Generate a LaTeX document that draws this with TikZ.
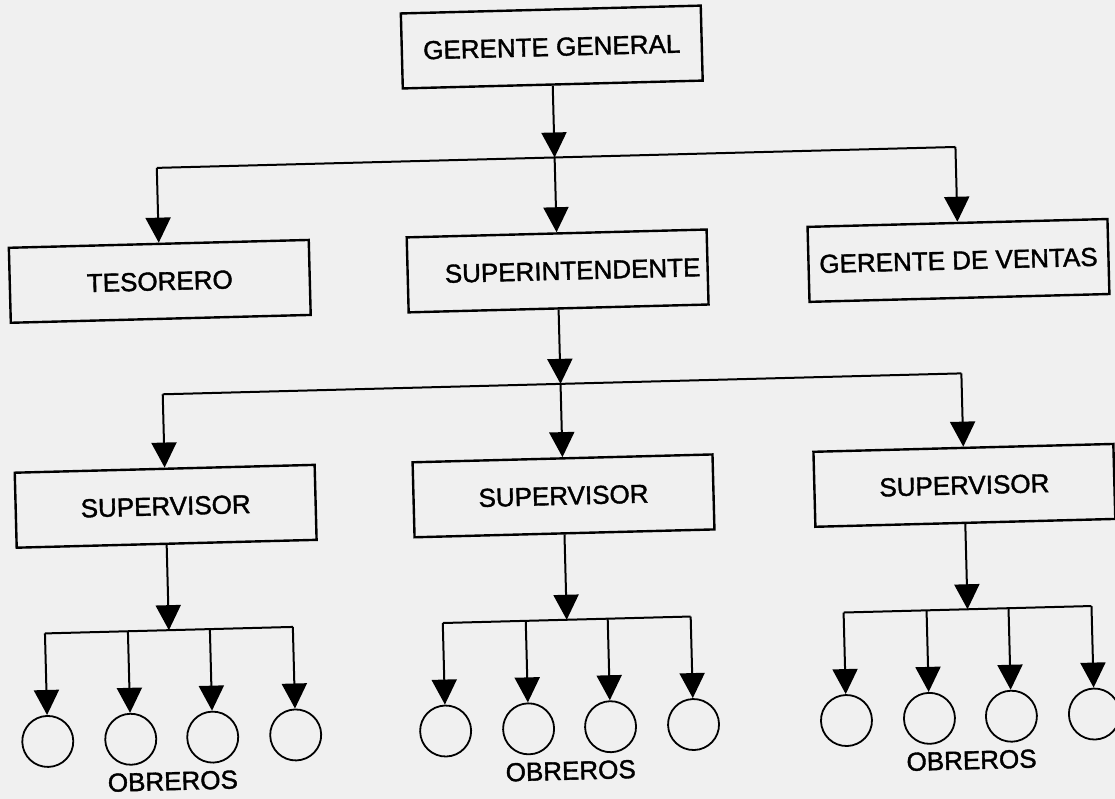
\documentclass[tikz,border=0pt]{standalone}
\usepackage{fontspec}
\setmainfont{Liberation Sans}
\newfontfamily\lettering{Liberation Sans}[FakeBold=1.5]
\usetikzlibrary{arrows.meta}

\begin{document}
\begin{tikzpicture}[x=1pt,y=-1pt,
  every node/.style={font=\lettering\fontsize{26}{28}\selectfont},
  box/.style={draw,line width=2.4pt,minimum width=300pt,minimum height=75pt,inner sep=4pt},
  worker/.style={draw,circle,line width=1.8pt,minimum size=51pt,inner sep=0pt},
  link/.style={line width=2pt,-{Triangle[length=25pt,width=25pt]}},
  wire/.style={line width=2pt}]
\fill[black!6] (0,0) rectangle (1115,799);
\useasboundingbox (0,0) rectangle (1115,799);
\begin{scope}[rotate around={1.5:(557,400)},transform shape]
% top
\node[box] (gg) at (561,47) {GERENTE GENERAL};
\node[box] (tes) at (163,271) {TESORERO};
\node[box] (sint) at (561,271) {\hspace*{30pt}SUPERINTENDENTE};
\node[box] (ven) at (962,271) {GERENTE DE VENTAS};
\coordinate (t1) at (163,157.5);
\coordinate (t2) at (561,157.5);
\coordinate (t3) at (962,157.5);
\draw[link] (gg.south) -- (t2);
\draw[wire] (t1) -- (t3);
\draw[link] (t1) -- (tes.north);
\draw[link] (t2) -- (sint.north);
\draw[link] (t3) -- (ven.north);
% supervisores
\node[box] (sv1) at (163,496) {SUPERVISOR};
\node[box] (sv2) at (561,496) {SUPERVISOR};
\node[box] (sv3) at (962,496) {SUPERVISOR};
\coordinate (m1) at (163,384);
\coordinate (m2) at (561,384);
\coordinate (m3) at (962,384);
\draw[link] (sint.south) -- (m2);
\draw[wire] (m1) -- (m3);
\draw[link] (m1) -- (sv1.north);
\draw[link] (m2) -- (sv2.north);
\draw[link] (m3) -- (sv3.north);
% obreros
\foreach \g/\cx in {1/163,2/561,3/962}{
  \coordinate (w\g) at (\cx,620);
  \draw[link] (sv\g.south) -- (w\g);
  \foreach \k/\dx in {1/-124,2/-41,3/41,4/124}{
    \coordinate (d\g\k) at (\cx+\dx,620);
    \node[worker] (o\g\k) at (\cx+\dx,728) {};
    \draw[link] (d\g\k) -- (o\g\k.north);
  }
  \draw[wire] (d\g1) -- (d\g4);
  \node (ob\g) at (\cx,771) {OBREROS};
}
\end{scope}
\end{tikzpicture}
\end{document}
